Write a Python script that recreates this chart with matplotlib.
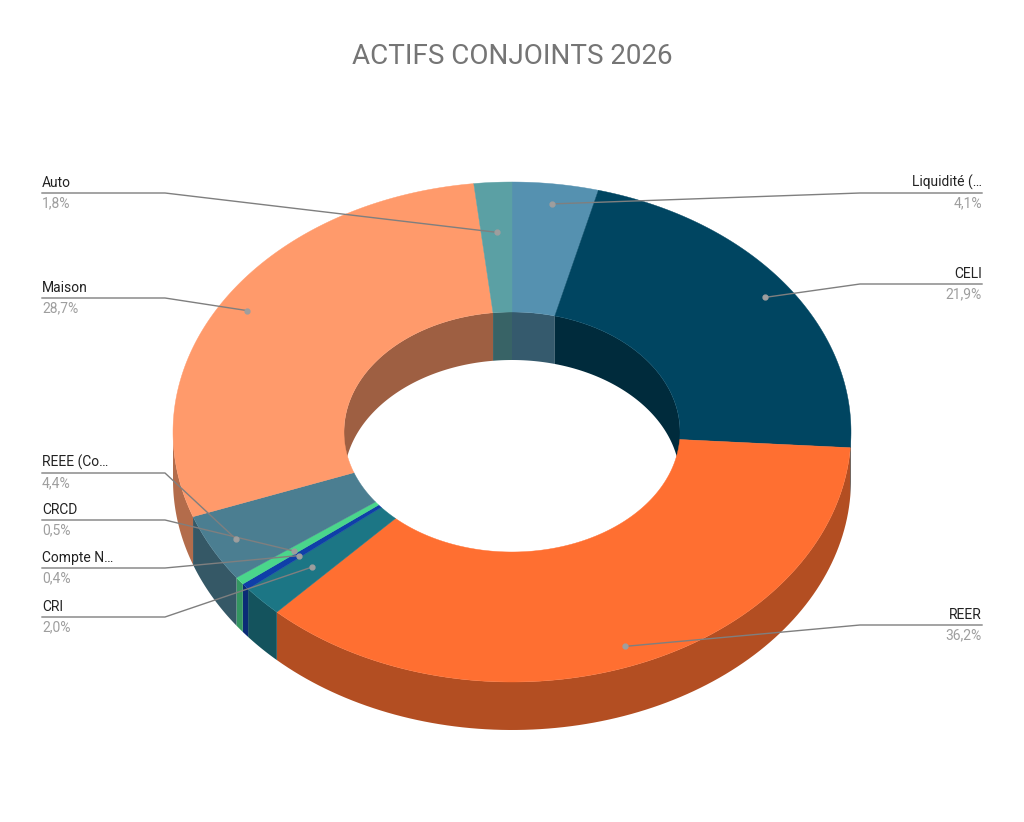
import numpy as np
import matplotlib
matplotlib.use("Agg")
import matplotlib.pyplot as plt
from matplotlib.patches import Polygon
from matplotlib.colors import to_rgb

labels = ["Liquidité (…", "CELI", "REER", "CRI", "Compte N…", "CRCD", "REEE (Co…", "Maison", "Auto"]
values = [4.1, 21.9, 36.2, 2.0, 0.4, 0.5, 4.4, 28.7, 1.8]
colors = ["#5591b0", "#004561", "#ff6f31", "#1c7685", "#0f3fa8", "#4ad68b", "#4b7e91", "#ff9a6b", "#5ba0a4"]
# label layout: side, name y (pixels), elbow x for the leader line
label_side = ["R", "R", "R", "L", "L", "L", "L", "L", "L"]
label_y = [180, 271, 612, 604, 555, 507, 460, 285, 180]

cx, cy = 512, 432
orx, ory = 339, 250
irx, iry = 168, 120
depth = 48

fig = plt.figure(figsize=(10.24, 8.22), dpi=100)
ax = fig.add_axes([0, 0, 1, 1])
ax.set_xlim(0, 1024)
ax.set_ylim(822, 0)
ax.axis("off")

def pt(rx, ry, th, dy=0):
    return cx + rx * np.sin(th), cy - ry * np.cos(th) + dy

def shade(c, f):
    return tuple(np.array(to_rgb(c)) * f)

total = sum(values)
bounds = np.concatenate([[0], np.cumsum(values)]) / total * 2 * np.pi

# inner walls (far side), outer walls (near side)
for i, c in enumerate(colors):
    a0, a1 = bounds[i], bounds[i + 1]
    for lo, hi, rx, ry, f in [(-np.pi / 2, np.pi / 2, irx, iry, 0.62), (np.pi / 2, 3 * np.pi / 2, orx, ory, 0.7)]:
        for off in (0, 2 * np.pi, -2 * np.pi):
            s, e = max(a0, lo + off), min(a1, hi + off)
            if e > s:
                th = np.linspace(s, e, 100)
                x, y = pt(rx, ry, th)
                xs = np.concatenate([x, x[::-1]])
                ys = np.concatenate([y, (y + depth)[::-1]])
                ax.add_patch(Polygon(np.c_[xs, ys], closed=True, fc=shade(c, f), ec="none", zorder=1))

# top faces
for i, c in enumerate(colors):
    th = np.linspace(bounds[i], bounds[i + 1], 200)
    xo, yo = pt(orx, ory, th)
    xi, yi = pt(irx, iry, th)
    ax.add_patch(Polygon(np.c_[np.concatenate([xo, xi[::-1]]), np.concatenate([yo, yi[::-1]])],
                         closed=True, fc=c, ec=c, lw=0.3, zorder=2))

# labels with leader lines
for i in range(len(values)):
    mid = (bounds[i] + bounds[i + 1]) / 2
    f = 0.92 if values[i] > 3 else 0.8
    ax_, ay_ = pt(orx * f, ory * f, mid)
    ly = label_y[i] + 13
    if label_side[i] == "R":
        tx, ha = 982, "right"
        ex = max(ax_, 860) if abs(ay_ - ly) > 4 else ax_
    else:
        tx, ha = 42, "left"
        ex = 165 if abs(ay_ - ly) > 4 else ax_
    ax.plot([tx, ex, ax_], [ly, ly, ay_], color="#7f7f7f", lw=1, zorder=3)
    ax.plot(ax_, ay_, "o", ms=3.5, color="#9e9e9e", zorder=4)
    ax.text(tx, label_y[i] + 10, labels[i], ha=ha, va="bottom", fontsize=10, color="#222222", family="Roboto")
    ax.text(tx, label_y[i] + 16, f"{values[i]:.1f}%".replace(".", ","), ha=ha, va="top",
            fontsize=10, color="#9e9e9e", family="Roboto")

ax.text(512, 57, "ACTIFS CONJOINTS 2026", ha="center", va="center", fontsize=20, color="#757575", family="Roboto")

fig.savefig("out.png", dpi=100)
